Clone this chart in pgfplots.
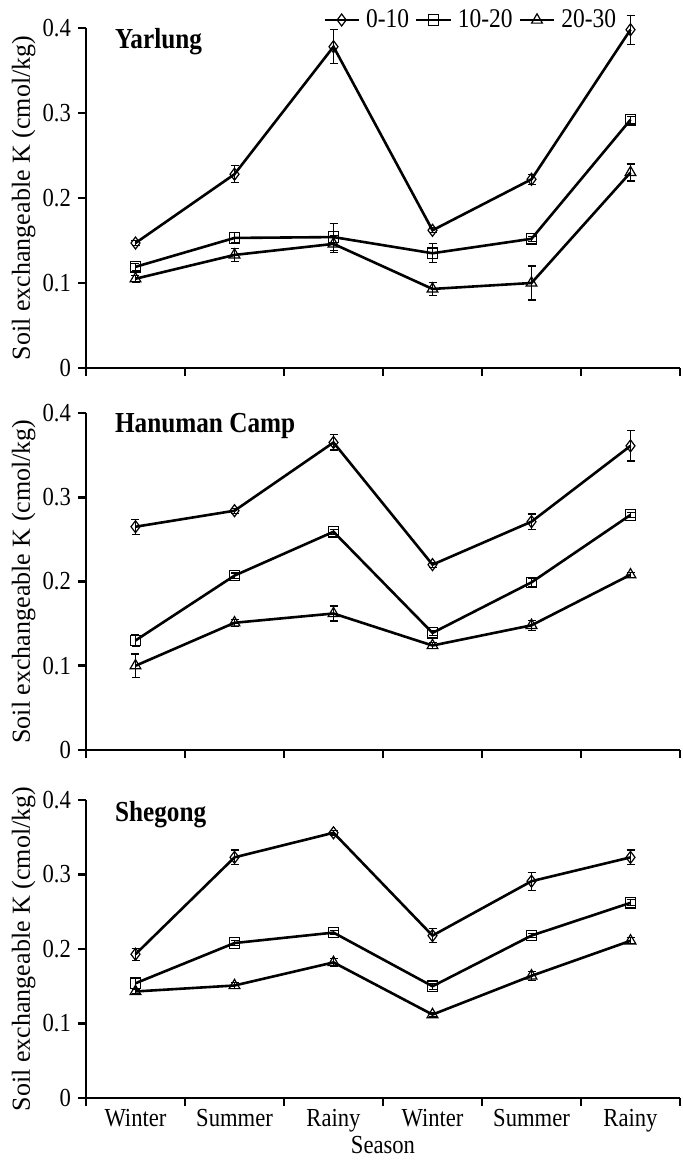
\documentclass[border=0pt]{standalone}
\usepackage{fontspec}
\setmainfont{Liberation Serif}[FakeStretch=0.87]
\newfontfamily\ylfont{Liberation Serif}
\usepackage{pgfplots}
\pgfplotsset{compat=1.18}
\pgfplotsset{
  panel/.style={
    scale only axis, width=297pt, xmin=0, xmax=6, ymin=0, ymax=0.4,
    axis lines=left, axis line style={-, line width=1.3pt},
    tick align=outside, major tick length=4pt,
    tick style={line width=1.3pt, black},
    xtick={0,1,2,3,4,5,6}, xticklabels={},
    ytick={0,0.1,0.2,0.3,0.4}, yticklabels={0,0.1,0.2,0.3,0.4},
    clip=false,
    tick label style={font=\fontsize{13}{15}\selectfont},
    /pgf/number format/assume math mode=true,
    ylabel={\ylfont\fontsize{13}{15}\selectfont Soil exchangeable K (cmol/kg)},
    ylabel style={at={(axis description cs:-0.105,0.5)}, anchor=center},
  },
  s1/.style={black, line width=1.3pt, mark=diamond, mark size=3pt,
    mark options={solid, fill=white, line width=0.6pt},
    error bars/.cd, y dir=both, y explicit,
    error bar style={line width=0.6pt},
    error mark options={rotate=90, mark size=2pt, line width=0.6pt}},
  s2/.style={black, line width=1.3pt, mark=square, mark size=2.6pt,
    mark options={solid, fill=white, line width=0.6pt},
    error bars/.cd, y dir=both, y explicit,
    error bar style={line width=0.6pt},
    error mark options={rotate=90, mark size=2pt, line width=0.6pt}},
  s3/.style={black, line width=1.3pt, mark=triangle, mark size=3.1pt,
    mark options={solid, fill=white, line width=0.6pt},
    error bars/.cd, y dir=both, y explicit,
    error bar style={line width=0.6pt},
    error mark options={rotate=90, mark size=2pt, line width=0.6pt}},
}
\begin{document}
\begin{tikzpicture}
\useasboundingbox (0,0) rectangle (341pt,580.5pt);
% ---------- Yarlung ----------
\begin{axis}[panel, at={(43pt,396.5pt)}, anchor=south west, height=170pt,
  legend columns=3,
  legend style={at={(axis description cs:0.9,1.0235)}, anchor=east, draw=none, fill=none,
    inner sep=0pt, font=\fontsize{13.5}{15}\selectfont, column sep=1pt},
  legend cell align=left]
\addplot[s1] coordinates {(0.5,0.147)+-(0,0.003) (1.5,0.228)+-(0,0.010) (2.5,0.378)+-(0,0.020) (3.5,0.162)+-(0,0.003) (4.5,0.222)+-(0,0.006) (5.5,0.398)+-(0,0.017)};
\addplot[s2] coordinates {(0.5,0.119)+-(0,0.004) (1.5,0.153)+-(0,0.006) (2.5,0.154)+-(0,0.016) (3.5,0.135)+-(0,0.011) (4.5,0.152)+-(0,0.003) (5.5,0.292)+-(0,0.004)};
\addplot[s3] coordinates {(0.5,0.105)+-(0,0.004) (1.5,0.133)+-(0,0.008) (2.5,0.146)+-(0,0.010) (3.5,0.093)+-(0,0.008) (4.5,0.100)+-(0,0.020) (5.5,0.230)+-(0,0.010)};
\legend{0-10,10-20,20-30}
\node[anchor=west, font=\bfseries\fontsize{14.5}{16}\selectfont] at (axis description cs:0.037,0.959) {Yarlung};
\end{axis}
% ---------- Hanuman Camp ----------
\begin{axis}[panel, at={(43pt,205.5pt)}, anchor=south west, height=168.5pt]
\addplot[s1] coordinates {(0.5,0.265)+-(0,0.009) (1.5,0.284)+-(0,0.003) (2.5,0.365)+-(0,0.009) (3.5,0.220)+-(0,0.003) (4.5,0.271)+-(0,0.009) (5.5,0.361)+-(0,0.018)};
\addplot[s2] coordinates {(0.5,0.130)+-(0,0.007) (1.5,0.207)+-(0,0.003) (2.5,0.259)+-(0,0.003) (3.5,0.139)+-(0,0.003) (4.5,0.199)+-(0,0.005) (5.5,0.279)+-(0,0.003)};
\addplot[s3] coordinates {(0.5,0.100)+-(0,0.014) (1.5,0.151)+-(0,0.004) (2.5,0.162)+-(0,0.009) (3.5,0.124)+-(0,0.004) (4.5,0.148)+-(0,0.006) (5.5,0.208)+-(0,0.003)};
\node[anchor=west, font=\bfseries\fontsize{14.5}{16}\selectfont] at (axis description cs:0.037,0.961) {Hanuman Camp};
\end{axis}
% ---------- Shegong ----------
\begin{axis}[panel, at={(43pt,31.5pt)}, anchor=south west, height=149pt,
  extra x ticks={0.5,1.5,2.5,3.5,4.5,5.5},
  extra x tick labels={Winter,Summer,Rainy,Winter,Summer,Rainy},
  extra x tick style={major tick length=0pt, tick label style={yshift=-2pt}},
  xlabel={\fontsize{13}{15}\selectfont Season},
  xlabel style={at={(axis description cs:0.5,0)}, anchor=center, yshift=-23.5pt}]
\addplot[s1] coordinates {(0.5,0.193)+-(0,0.008) (1.5,0.323)+-(0,0.010) (2.5,0.356)+-(0,0.003) (3.5,0.218)+-(0,0.009) (4.5,0.291)+-(0,0.012) (5.5,0.323)+-(0,0.010)};
\addplot[s2] coordinates {(0.5,0.154)+-(0,0.007) (1.5,0.208)+-(0,0.003) (2.5,0.222)+-(0,0.003) (3.5,0.150)+-(0,0.004) (4.5,0.218)+-(0,0.003) (5.5,0.262)+-(0,0.004)};
\addplot[s3] coordinates {(0.5,0.143)+-(0,0.003) (1.5,0.151)+-(0,0.004) (2.5,0.182)+-(0,0.005) (3.5,0.112)+-(0,0.003) (4.5,0.164)+-(0,0.006) (5.5,0.211)+-(0,0.004)};
\node[anchor=west, font=\bfseries\fontsize{14.5}{16}\selectfont] at (axis description cs:0.037,0.95) {Shegong};
\end{axis}
\end{tikzpicture}
\end{document}
